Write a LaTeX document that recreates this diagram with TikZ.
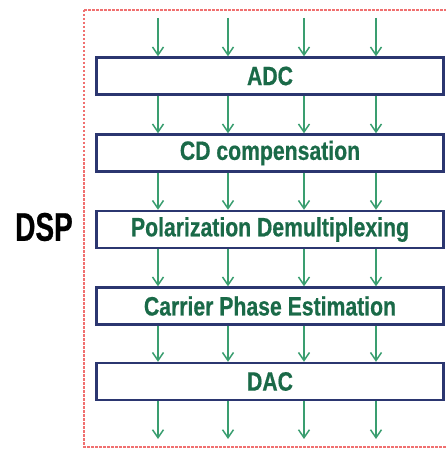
\documentclass[tikz,border=0pt]{standalone}
\usepackage{fontspec}
\setmainfont{Liberation Sans}
\newfontfamily\boxfont[FakeStretch=0.80,FakeBold=0.6]{Liberation Sans}
\newfontfamily\dspfont[FakeStretch=0.70,FakeBold=0.6]{Liberation Sans}
\usetikzlibrary{arrows.meta}
\definecolor{navy}{HTML}{2B3670}
\definecolor{txtgreen}{HTML}{1A6A48}
\definecolor{arrgreen}{HTML}{3A9E70}
\definecolor{dashred}{HTML}{F07070}
\begin{document}
\begin{tikzpicture}[x=1pt,y=-1pt,
  stage/.style={draw=navy, line width=2.4pt, fill=white, minimum width=347pt, minimum height=37pt, inner sep=0pt,
    text=txtgreen, font=\boxfont\bfseries\fontsize{26.5}{28}\selectfont},
  flow/.style={draw=arrgreen, line width=1.5pt, -{Straight Barb[length=8pt,width=11pt,line width=1.5pt]}}]
\useasboundingbox (0,0) rectangle (446,449);
\draw[dashred, line width=1.8pt, dash pattern=on 2.5pt off 1.5pt] (84,10) -- (452,10) (84,10) -- (84,447) -- (452,447);
\node[stage] (adc) at (270,76) {ADC};
\node[stage] (cd) at (270,153) {CD compensation};
\node[stage] (pol) at (270,229.5) {Polarization Demultiplexing};
\node[stage] (cpe) at (270,306) {Carrier Phase Estimation};
\node[stage] (dac) at (270,381.5) {DAC};
\node[font=\dspfont\bfseries\fontsize{40}{42}\selectfont, inner sep=0pt] (dsp) at (44,227) {DSP};
\foreach \x [count=\i] in {158,228,304,376} {
  \coordinate (in\i) at (\x,18);
  \coordinate (out\i) at (\x,439);
  \draw[flow] (in\i) -- (in\i |- adc.north);
  \draw[flow] (adc.south -| in\i) -- (cd.north -| in\i);
  \draw[flow] (cd.south -| in\i) -- (pol.north -| in\i);
  \draw[flow] (pol.south -| in\i) -- (cpe.north -| in\i);
  \draw[flow] (cpe.south -| in\i) -- (dac.north -| in\i);
  \draw[flow] (dac.south -| in\i) -- (out\i);
}
\end{tikzpicture}
\end{document}
